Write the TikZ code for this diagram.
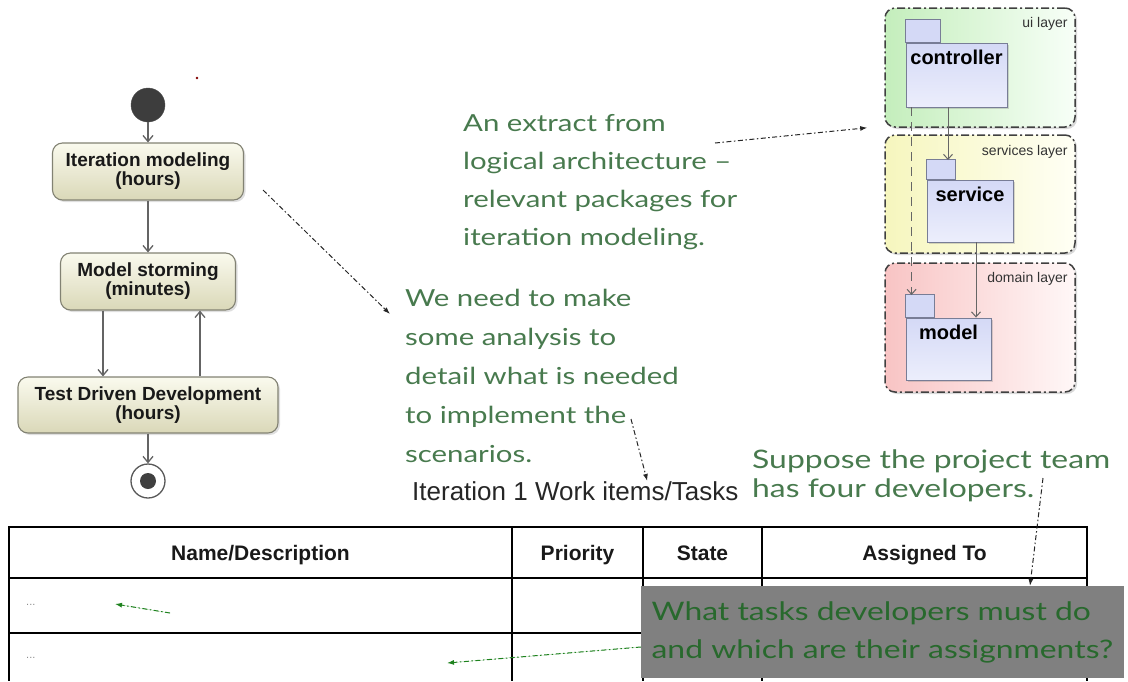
\documentclass[tikz,border=0pt]{standalone}
\usepackage{fontspec}
\setmainfont{Liberation Sans}
\newfontfamily\hand{Lato}[FakeStretch=1.25]
\usetikzlibrary{arrows.meta,shadows}

\definecolor{actborder}{RGB}{130,130,115}
\definecolor{actlight}{RGB}{250,250,238}
\definecolor{actdark}{RGB}{218,216,184}
\definecolor{flowgray}{RGB}{100,100,100}
\definecolor{handgreen}{RGB}{72,122,78}
\definecolor{notegreen}{RGB}{40,105,45}
\definecolor{pkgborder}{RGB}{120,125,150}
\definecolor{pkgtop}{RGB}{212,217,246}
\definecolor{pkgbot}{RGB}{236,238,252}
\definecolor{uigreen}{RGB}{196,238,188}
\definecolor{svyellow}{RGB}{246,246,190}
\definecolor{dmred}{RGB}{248,196,196}
\definecolor{arrowgreen}{RGB}{30,130,30}

\tikzset{
  actbox/.style={draw=actborder, line width=1.1pt, rounded corners=10pt,
    top color=actlight, bottom color=actdark, text=black!90,
    font=\bfseries\fontsize{19}{19}\selectfont, align=center, inner sep=0pt,
    drop shadow={opacity=0.25, shadow xshift=2pt, shadow yshift=-2pt}},
  flowarrow/.style={draw=flowgray, line width=1.3pt,
    -{Straight Barb[length=6pt,width=10pt]}},
  layerbox/.style={draw=black!75, line width=1.5pt, rounded corners=10pt,
    dash pattern=on 8pt off 3pt on 2pt off 3pt, inner sep=0pt,
    drop shadow={opacity=0.3, shadow xshift=2pt, shadow yshift=-2pt}},
  layername/.style={font=\fontsize{14}{14}\selectfont, text=black!80,
    anchor=base east, inner sep=0pt},
  pkgbody/.style={draw=pkgborder, line width=0.9pt, top color=pkgtop,
    bottom color=pkgbot, inner sep=0pt,
    drop shadow={opacity=0.3, shadow xshift=2pt, shadow yshift=-2pt}},
  pkgtab/.style={draw=pkgborder, line width=0.9pt, fill=pkgtop},
  pkgname/.style={font=\bfseries\fontsize{20}{20}\selectfont, anchor=north,
    inner sep=0pt},
  depline/.style={draw=black!60, line width=1pt,
    -{Straight Barb[length=5pt,width=9pt]}},
  handnote/.style={font=\hand\fontsize{23.5}{38}\selectfont, text=handgreen,
    align=left, inner sep=0pt, anchor=north west},
  bignote/.style={font=\hand\fontsize{25.5}{29}\selectfont, text=handgreen,
    align=left, inner sep=0pt, anchor=north west},
  notearrow/.style={draw=black!85, line width=1pt,
    dash pattern=on 5pt off 2.5pt on 1.5pt off 2.5pt,
    -{Latex[length=7pt,width=5pt]}},
  greenarrow/.style={notearrow, draw=arrowgreen, fill=arrowgreen},
  tblthick/.style={draw=black, line width=2.4pt},
  tblthin/.style={draw=black, line width=1.3pt},
  hdr/.style={font=\bfseries\fontsize{21}{21}\selectfont, text=black!90,
    inner sep=0pt, anchor=base},
  dots/.style={font=\fontsize{11}{11}\selectfont, text=black!45,
    anchor=west, inner sep=0pt}
}

\begin{document}
\begin{tikzpicture}[x=1pt,y=-1pt]
\useasboundingbox (0,0) rectangle (1128,681);

% ---------- activity flow ----------
\fill[red!50!black] (197,78) circle (1.4pt);
\node[circle, minimum size=34pt, inner sep=0pt, fill=black!76,
      draw=black!70] (init) at (148,105) {};
\node[actbox, minimum width=191pt, minimum height=57pt] (b1) at (148,171.5)
  {Iteration modeling\\(hours)};
\node[actbox, minimum width=175pt, minimum height=57pt] (b2) at (148,281.5)
  {Model storming\\(minutes)};
\node[actbox, minimum width=260pt, minimum height=56pt] (b3) at (148,405)
  {Test Driven Development\\(hours)};
\node[circle, minimum size=34pt, inner sep=0pt, fill=white,
      draw=black!65, line width=1.3pt] (final) at (148,481) {};
\fill[black!75] (final.center) circle (8pt);

\draw[flowarrow] (init) -- (b1);
\draw[flowarrow] (b1) -- (b2);
\draw[flowarrow] ([xshift=-45pt]b2.south) -- ([xshift=-45pt]b2.south |- b3.north);
\draw[flowarrow] ([xshift=52pt]b3.north) -- ([xshift=52pt]b3.north |- b2.south);
\draw[flowarrow] (b3) -- (final);

% ---------- layers and packages ----------
\node[layerbox, left color=uigreen, right color=green!3, minimum width=190pt,
      minimum height=119pt] (ui) at (980,67.5) {};
\node[layerbox, left color=svyellow, right color=yellow!4, minimum width=190pt,
      minimum height=118pt] (svc) at (980,194) {};
\node[layerbox, left color=dmred, right color=red!3, minimum width=190pt,
      minimum height=129pt] (dom) at (980,327.5) {};
\node[layername] at ([xshift=-8pt,yshift=-20pt]ui.north east) {ui layer};
\node[layername] at ([xshift=-8pt,yshift=-21pt]svc.north east) {services layer};
\node[layername] at ([xshift=-8pt,yshift=-20pt]dom.north east) {domain layer};

\node[pkgbody, minimum width=101pt, minimum height=64pt] (ctrl) at (956.5,75) {};
\draw[pkgtab] (ctrl.north west) rectangle ++(35,-23);
\node[pkgname] (ctrlname) at ([yshift=-7pt]ctrl.north) {controller};

\node[pkgbody, minimum width=86pt, minimum height=62pt] (serv) at (970,211) {};
\draw[pkgtab] (serv.north west) rectangle ++(29,-20);
\node[pkgname] (servname) at ([yshift=-7pt]serv.north) {service};

\node[pkgbody, minimum width=85pt, minimum height=62pt] (mdl) at (948.5,349) {};
\draw[pkgtab] (mdl.north west) rectangle ++(29,-23);
\node[pkgname] (mdlname) at ([yshift=-7pt]mdl.north) {model};

\draw[depline] ([xshift=-8.5pt]ctrl.south) -- ([xshift=-8.5pt]ctrl.south |- 0,160);
\draw[depline] ([xshift=6pt]serv.south) -- ([xshift=6pt]serv.south |- mdl.north);
\draw[depline, dash pattern=on 9pt off 6pt]
  ([xshift=6pt]ctrl.south west) -- ([xshift=6pt]ctrl.south west |- 0,295);

% ---------- notes ----------
\node[handnote] (extract) at (463,114)
  {An extract from\\logical architecture –\\relevant packages for\\iteration modeling.};
\node[handnote, font=\hand\fontsize{23.5}{39}\selectfont] (analysis) at (405,289)
  {We need to make\\some analysis to\\detail what is needed\\to implement the\\scenarios.};
\node[bignote] (team) at (752,450)
  {Suppose the project team\\has four developers.};

\node[font=\fontsize{26}{26}\selectfont, text=black!85, anchor=base west,
      inner sep=0pt] (ttl) at (412,500) {Iteration 1 Work items/Tasks};

\coordinate (extTail) at (715,143);
\draw[notearrow] (extTail) -- ([xshift=-17pt]ui.south west);
\coordinate (b1Tail) at (263,190);
\coordinate (anaHead) at (390,314);
\draw[notearrow] (b1Tail) -- (anaHead);
\coordinate (anaTail) at (631,419);
\draw[notearrow] (anaTail) -- ([xshift=72pt]ttl.north);

% ---------- work item table ----------
\draw[tblthin] (9,578) -- (1087,578);
\draw[tblthin] (9,633) -- (1087,633);
\foreach \cx in {512,643,762} \draw[tblthin] (\cx,527) -- (\cx,681);
\draw[tblthick] (9,527) -- (1087,527);
\draw[tblthick] (9,526) -- (9,681);
\draw[tblthick] (1087,526) -- (1087,681);

\node[hdr] (hname) at (260.5,560) {Name/Description};
\node[hdr] (hprio) at (577.5,560) {Priority};
\node[hdr] (hstate) at (702.5,560) {State};
\node[hdr] (hassign) at (924.5,560) {Assigned To};
\node[dots] (row1) at (26,605) {...};
\node[dots] (row2) at (26,658) {...};

\node[fill=black!50, minimum width=483pt, minimum height=92pt, inner sep=0pt,
      align=left, text=notegreen,
      font=\hand\fontsize{25.5}{38}\selectfont] (q) at (882.5,632)
  {What tasks developers must do\\and which are their assignments?};

\coordinate (teamTail) at (1043,478);
\draw[notearrow] (teamTail) -- (q.north -| 1030,0);
\coordinate (r1Tail) at (170,613);
\coordinate (r1Head) at (115,604);
\draw[greenarrow] (r1Tail) -- (r1Head);
\coordinate (r2Head) at (447,663);
\draw[greenarrow] ([yshift=-15pt]q.west) -- (r2Head);
\end{tikzpicture}
\end{document}
